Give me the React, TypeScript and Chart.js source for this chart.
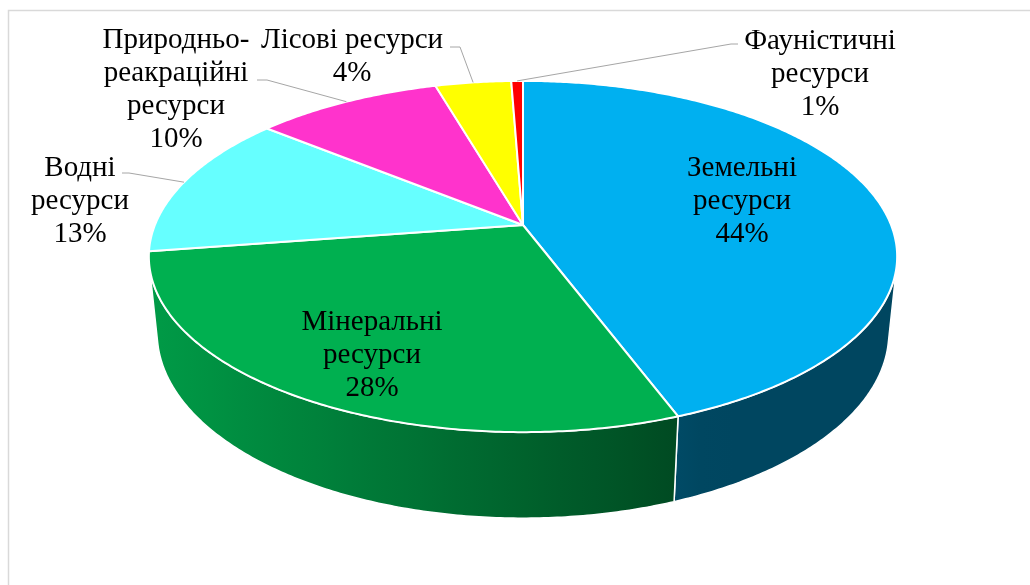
import React, { useEffect, useRef } from 'react';
import { Chart, registerables } from 'chart.js';

Chart.register(...registerables);

const categories = [
  'Земельні ресурси',
  'Мінеральні ресурси',
  'Водні ресурси',
  'Природньо-реакраційні ресурси',
  'Лісові ресурси',
  'Фауністичні ресурси',
];
const labelLines = [
  ['Земельні', 'ресурси'],
  ['Мінеральні', 'ресурси'],
  ['Водні', 'ресурси'],
  ['Природньо-', 'реакраційні', 'ресурси'],
  ['Лісові ресурси'],
  ['Фауністичні', 'ресурси'],
];
const values = [44.3, 28.3, 13.3, 9.6, 3.9, 0.6];
const colors = ['#00B0F0', '#00B050', '#66FFFF', '#FF33CC', '#FFFF00', '#FF0000'];

// label layout (centre x, first-line centre y)
const labelPos = [
  [742, 168],
  [372, 322],
  [80, 168],
  [176, 40],
  [352, 40],
  [820, 41],
];
// leader line elbows: [text-side point, elbow point]
const leaderElbows: (number[][] | null)[] = [
  null,
  null,
  [[122, 173], [129, 173]],
  [[257, 80], [267, 80]],
  [[450, 47], [460, 47]],
  [[738, 44], [731, 44]],
];

const FOCAL = 1819;
const DIST = 4.942;
const PITCH = 0.48;
const DEPTH = 0.236;
const LINE_H = 33;
const FONT = '29px "Liberation Serif", "Times New Roman", serif';

function hexToRgb(h: string) {
  const n = parseInt(h.slice(1), 16);
  return [(n >> 16) & 255, (n >> 8) & 255, n & 255];
}
function shade(h: string, f: number) {
  const [r, g, b] = hexToRgb(h);
  return `rgb(${Math.round(r * f)},${Math.round(g * f)},${Math.round(b * f)})`;
}
function wallFactor(x: number) {
  return Math.max(0.4, 0.88 - (x - 150) * 0.000865);
}

const pie3d = {
  id: 'pie3d',
  beforeDraw(chart: any) {
    const ctx = chart.ctx;
    ctx.save();
    ctx.fillStyle = '#fff';
    ctx.fillRect(0, 0, chart.width, chart.height);
    ctx.strokeStyle = '#D9D9D9';
    ctx.lineWidth = 1.5;
    ctx.strokeRect(8.5, 10.5, chart.width + 20, chart.height + 20);
    ctx.restore();
  },
  beforeDatasetsDraw(chart: any) {
    const ctx = chart.ctx;
    const els = chart.getDatasetMeta(0).data;
    if (!els.length) return false;
    const cx = els[0].x;
    const cy = els[0].y;
    const sa = Math.sin(PITCH);
    const ca = Math.cos(PITCH);
    const proj = (a: number, r: number, y: number) => {
      const px = r * Math.cos(a);
      const py = y - DIST * sa;
      const pz = r * Math.sin(a) - DIST * ca;
      const yc = py * ca - pz * sa;
      const zc = -py * sa - pz * ca;
      return [cx + (FOCAL * px) / zc, cy - (FOCAL * yc) / zc];
    };
    (chart as any)._proj = proj;

    ctx.save();
    // side walls (front-facing part only)
    const aMin = Math.asin(1 / (DIST * ca));
    const aMax = Math.PI - aMin;
    els.forEach((el: any) => {
      const s = Math.max(el.startAngle, aMin);
      const e = Math.min(el.endAngle, aMax);
      if (e <= s) return;
      const n = Math.max(4, Math.ceil((e - s) / 0.01));
      ctx.beginPath();
      for (let k = 0; k <= n; k++) {
        const a = s + ((e - s) * k) / n;
        const [x, y] = proj(a, 1, 0);
        if (k === 0) ctx.moveTo(x, y);
        else ctx.lineTo(x, y);
      }
      for (let k = n; k >= 0; k--) {
        const a = s + ((e - s) * k) / n;
        const [x, y] = proj(a, 1, -DEPTH);
        ctx.lineTo(x, y);
      }
      ctx.closePath();
      const base = el.options.backgroundColor as string;
      const g = ctx.createLinearGradient(140, 0, 910, 0);
      for (let x = 140; x <= 910; x += 35) {
        g.addColorStop((x - 140) / 770, shade(base, wallFactor(x)));
      }
      ctx.fillStyle = g;
      ctx.fill();
      ctx.strokeStyle = '#fff';
      ctx.lineWidth = 1.5;
      ctx.lineJoin = 'round';
      ctx.stroke();
    });

    // top faces
    els.forEach((el: any) => {
      const s = el.startAngle;
      const e = el.endAngle;
      const n = Math.max(4, Math.ceil((e - s) / 0.01));
      const [ox, oy] = proj(0, 0, 0);
      ctx.beginPath();
      ctx.moveTo(ox, oy);
      for (let k = 0; k <= n; k++) {
        const a = s + ((e - s) * k) / n;
        const [x, y] = proj(a, 1, 0);
        ctx.lineTo(x, y);
      }
      ctx.closePath();
      ctx.fillStyle = el.options.backgroundColor;
      ctx.fill();
      ctx.strokeStyle = '#fff';
      ctx.lineWidth = 2;
      ctx.lineJoin = 'round';
      ctx.stroke();
    });
    ctx.restore();
    return false;
  },
  afterDraw(chart: any) {
    const ctx = chart.ctx;
    const els = chart.getDatasetMeta(0).data;
    const proj = (chart as any)._proj;
    if (!proj) return;
    const total = values.reduce((a, b) => a + b, 0);
    ctx.save();
    // leader lines
    ctx.strokeStyle = '#A6A6A6';
    ctx.lineWidth = 1;
    els.forEach((el: any, i: number) => {
      const lead = leaderElbows[i];
      if (!lead) return;
      const mid = (el.startAngle + el.endAngle) / 2;
      const [ax, ay] = proj(mid, 1, 0);
      ctx.beginPath();
      ctx.moveTo(lead[0][0], lead[0][1]);
      ctx.lineTo(lead[1][0], lead[1][1]);
      ctx.lineTo(ax, ay);
      ctx.stroke();
    });
    // labels
    ctx.fillStyle = '#000';
    ctx.font = FONT;
    ctx.textAlign = 'center';
    ctx.textBaseline = 'middle';
    els.forEach((el: any, i: number) => {
      const lines = [...labelLines[i], Math.round((values[i] / total) * 100) + '%'];
      const [lx, ly] = labelPos[i];
      lines.forEach((t, k) => ctx.fillText(t, lx, ly + k * LINE_H));
    });
    ctx.restore();
  },
};

export default function App() {
  const ref = useRef<HTMLCanvasElement | null>(null);
  useEffect(() => {
    if (!ref.current) return;
    const chart = new Chart(ref.current, {
      type: 'pie',
      data: {
        labels: categories,
        datasets: [
          {
            data: values,
            backgroundColor: colors,
            borderColor: '#fff',
            borderWidth: 2,
          },
        ],
      },
      options: {
        responsive: false,
        animation: false,
        layout: { padding: { left: 16, right: 0, top: 0, bottom: 135 } },
        plugins: {
          legend: { display: false },
          tooltip: { enabled: false },
        },
      },
      plugins: [pie3d],
    });
    return () => chart.destroy();
  }, []);
  return (
    <div style={{ position: 'absolute', left: 0, top: 0, width: 1030, height: 585 }}>
      <canvas ref={ref} width={1030} height={585} />
    </div>
  );
}
